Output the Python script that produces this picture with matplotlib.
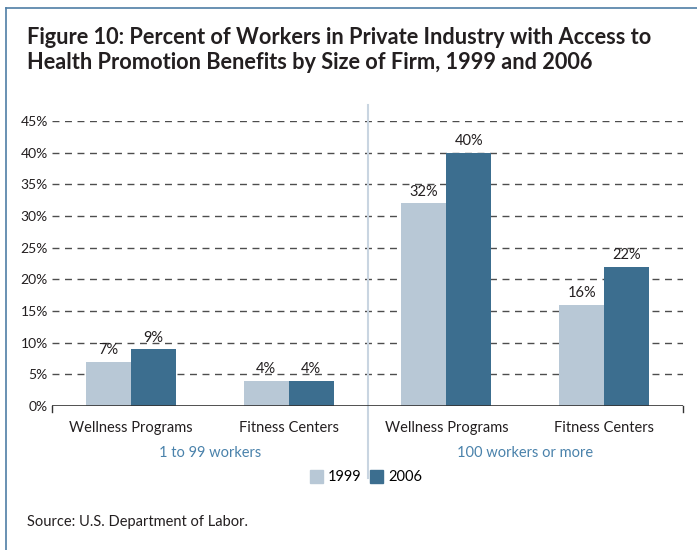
import matplotlib.pyplot as plt
from matplotlib.lines import Line2D
from matplotlib.patches import Patch

# Access to health promotion benefits, private industry, by firm size
categories = ["Wellness Programs", "Fitness Centers", "Wellness Programs", "Fitness Centers"]
groups = ["1 to 99 workers", "100 workers or more"]
years = ["1999", "2006"]
values_1999 = [7, 4, 32, 16]
values_2006 = [9, 4, 40, 22]
yticks = [0, 5, 10, 15, 20, 25, 30, 35, 40, 45]

plt.rcParams['font.family'] = ['Lato', 'DejaVu Sans']

light = '#b8c8d6'
dark = '#3c6e8f'
text_col = '#231f20'
blue_text = '#4a82ab'
frame_col = '#4f7ea6'

fig = plt.figure(figsize=(6.97, 5.50), dpi=100)
ax = fig.add_axes([52 / 697, 1 - 406 / 550, (683 - 52) / 697, (406 - 121) / 550])

x = list(range(len(categories)))
w = 0.285
bars1 = ax.bar([i - w / 2 for i in x], values_1999, width=w, color=light, zorder=3)
bars2 = ax.bar([i + w / 2 for i in x], values_2006, width=w, color=dark, zorder=3)

for bars in (bars1, bars2):
    for bar in bars:
        h = bar.get_height()
        ax.text(bar.get_x() + bar.get_width() / 2, h + 0.7, f"{h:.0f}%",
                ha='center', va='bottom', fontsize=10.5, color=text_col, zorder=4)

ax.set_xlim(-0.5, 3.5)
ax.set_ylim(0, 45)
ax.set_yticks(yticks)
ax.set_yticklabels([f"{t}%" for t in yticks], fontsize=10, color=text_col)
ax.tick_params(axis='y', length=0, pad=3)
ax.set_xticks([])

for t in yticks[1:]:
    ax.axhline(t, color='#4d4d4d', lw=1.0, ls=(0, (5, 4)), zorder=1)

for s in ax.spines.values():
    s.set_visible(False)
ax.axhline(0, color='#333333', lw=1.2, zorder=5)
ax.plot([-0.5, -0.5], [0, -0.9], color='#333333', lw=1, clip_on=False)
ax.plot([3.5, 3.5], [0, -0.9], color='#333333', lw=1, clip_on=False)

# divider between firm-size groups
ax.add_line(Line2D([1.5, 1.5], [-11.4, 47.5], color='#c9d5e1', lw=1.5,
                   clip_on=False, zorder=2))

for i, c in enumerate(categories):
    ax.text(i, -3.4, c, ha='center', va='center', fontsize=10.5, color=text_col)
for j, g in enumerate(groups):
    ax.text(0.5 + 2 * j, -7.4, g, ha='center', va='center', fontsize=10.5, color=blue_text)

handles = [Patch(color=light), Patch(color=dark)]
fig.legend(handles, years, loc='center', bbox_to_anchor=(366 / 697, 1 - 477 / 550),
           ncol=2, frameon=False, fontsize=10.5, handlelength=0.9, handleheight=1.0,
           handletextpad=0.35, columnspacing=0.6)

fig.text(27 / 697, 1 - 37 / 550,
         "Figure 10: Percent of Workers in Private Industry with Access to",
         fontsize=15.7, fontweight='bold', color=text_col, va='center')
fig.text(27 / 697, 1 - 62 / 550,
         "Health Promotion Benefits by Size of Firm, 1999 and 2006",
         fontsize=15.7, fontweight='bold', color=text_col, va='center')
fig.text(27 / 697, 1 - 522 / 550, "Source: U.S. Department of Labor.",
         fontsize=10.5, color=text_col, va='center')

# outer frame: top and left edges
fig.add_artist(Line2D([6 / 697, 1], [1 - 8 / 550, 1 - 8 / 550], color=frame_col, lw=1.2))
fig.add_artist(Line2D([6 / 697, 6 / 697], [1 - 8 / 550, 0], color=frame_col, lw=1.2))

fig.savefig('out.png', dpi=100)
